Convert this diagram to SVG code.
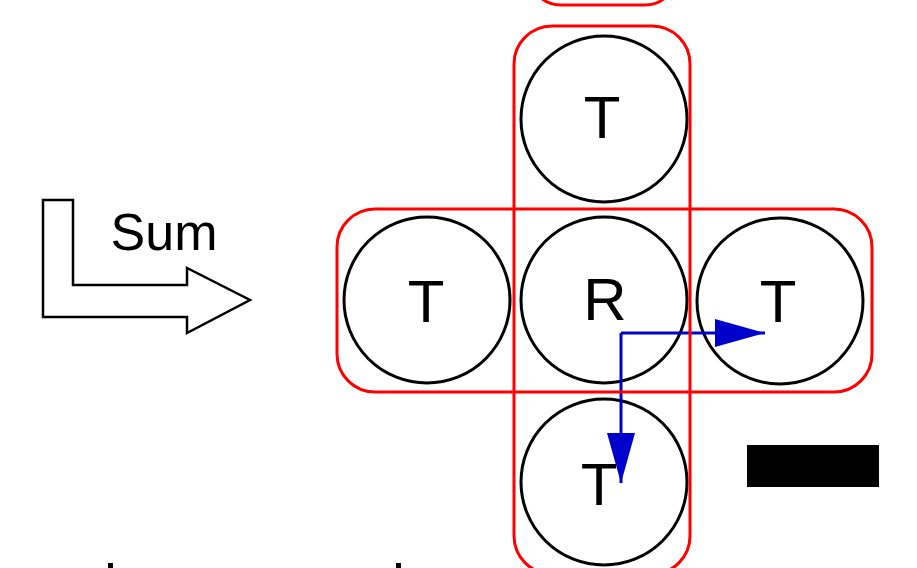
<svg xmlns="http://www.w3.org/2000/svg" width="917" height="568" viewBox="0 0 917 568">
<style>
.cell{fill:none;stroke:#000;stroke-width:3}
.lbl{font-family:"Liberation Sans",Arial,sans-serif;font-size:60px;fill:#000;text-anchor:middle}
.grp{fill:none;stroke:#ff0000;stroke-width:3}
.conn{fill:none;stroke:#0000cc;stroke-width:3}
</style>
<defs>
<marker id="ah" viewBox="0 0 50 28" refX="50" refY="14" markerWidth="50" markerHeight="28" markerUnits="userSpaceOnUse" orient="auto">
<path d="M0,0 L50,14 L0,28 Z" fill="#0000cc"/>
</marker>
</defs>
<rect x="0" y="0" width="917" height="568" fill="#fff"/>
<g id="sum">
<polygon points="43,200 73,200 73,285 187,285 187,268 250,300 187,333 187,317 43,317" fill="#fff" stroke="#000" stroke-width="2.5"/>
<text x="164" y="250" font-family="'Liberation Sans',Arial,sans-serif" font-size="52" text-anchor="middle">Sum</text>
</g>
<g id="node-top"><circle class="cell" cx="604" cy="119" r="83"/><text class="lbl" x="602" y="138">T</text></g>
<g id="node-left"><circle class="cell" cx="427" cy="300" r="83"/><text class="lbl" x="426" y="322">T</text></g>
<g id="node-center"><circle class="cell" cx="604" cy="300" r="83"/><text class="lbl" x="605" y="320">R</text></g>
<g id="node-right"><circle class="cell" cx="780" cy="301" r="83"/><text class="lbl" x="778" y="322">T</text></g>
<g id="node-bottom"><circle class="cell" cx="604" cy="482" r="83"/><text class="lbl" x="599" y="505">T</text></g>
<g id="connectors">
<path class="conn" d="M621,333 L765,333" marker-end="url(#ah)"/>
<path class="conn" d="M621,333 L621,483" marker-end="url(#ah)"/>
</g>
<g id="groups">
<rect class="grp" x="529" y="-150" width="148" height="155" rx="32"/>
<rect class="grp" x="514" y="26" width="176" height="548" rx="38"/>
<rect class="grp" x="337" y="209" width="535" height="183" rx="38"/>
</g>
<rect id="bar" x="747" y="445" width="132" height="42" fill="#000"/>
<rect x="108" y="563" width="5" height="5" fill="#000"/>
<rect x="396" y="563" width="5" height="5" fill="#000"/>
</svg>
